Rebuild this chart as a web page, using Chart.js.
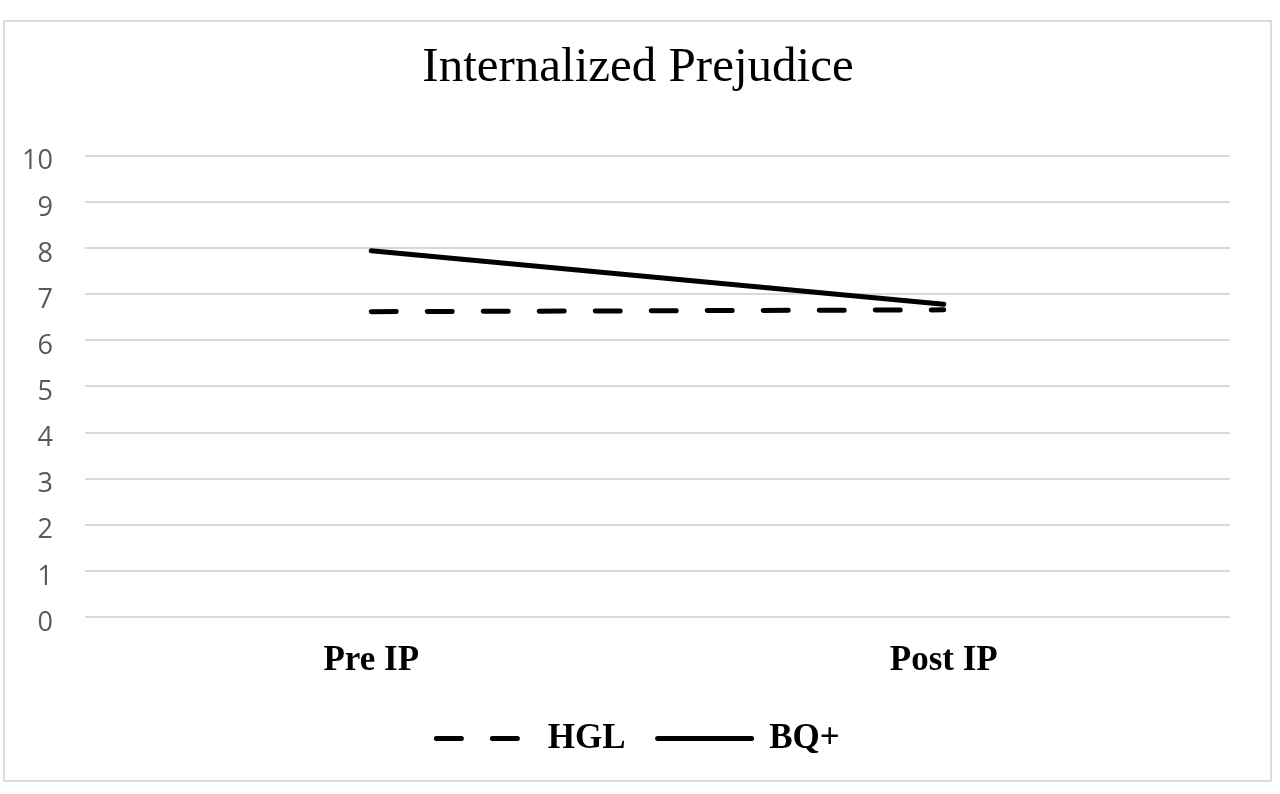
<!DOCTYPE html>
<html>
<head>
<meta charset="utf-8">
<script src="https://cdn.jsdelivr.net/npm/chart.js@4"></script>
<style>
  html, body { margin: 0; padding: 0; background: #fff; }
  #wrap { width: 1280px; height: 794px; }
</style>
</head>
<body>
<div id="wrap"><canvas id="myChart" width="1280" height="794"></canvas></div>
<script>
// categories and values
var categories = ['Pre IP', 'Post IP'];
var hglValues = [6.62, 6.66];
var bqValues = [7.94, 6.78];
var yMin = 0;
var yMax = 10;
var yStep = 1;

// light gray frame around the whole picture
var framePlugin = {
    id: 'frame',
    beforeDraw: function(chart){
        var ctx = chart.ctx;
        ctx.save();
        ctx.fillStyle = '#ffffff';
        ctx.fillRect(0, 0, chart.width, chart.height);
        ctx.strokeStyle = '#dcdcdc';
        ctx.lineWidth = 2;
        ctx.strokeRect(4, 21, 1267, 760);
        ctx.restore();
    }
};

var chartData = {
    type: 'line',
    data: {
        labels: categories,
        datasets: [{
            label: 'HGL',
            data: hglValues,
            borderColor: '#000000',
            backgroundColor: '#000000',
            borderWidth: 5,
            borderDash: [25, 31],
            borderCapStyle: 'round',
            pointRadius: 0,
            fill: false
        }, {
            label: 'BQ+',
            data: bqValues,
            borderColor: '#000000',
            backgroundColor: '#000000',
            borderWidth: 5,
            borderCapStyle: 'round',
            pointRadius: 0,
            fill: false
        }]
    },
    options: {
        responsive: false,
        animation: false,
        layout: {
            padding: { left: 0, right: 4, top: 0, bottom: 28 }
        },
        plugins: {
            title: {
                display: true,
                text: 'Internalized Prejudice',
                color: '#000000',
                font: { family: '"Liberation Serif", serif', size: 49, weight: 'normal' },
                padding: { top: 39, bottom: 58 }
            },
            legend: {
                position: 'bottom',
                labels: {
                    usePointStyle: true,
                    pointStyleWidth: 94,
                    color: '#000000',
                    font: { family: '"Liberation Serif", serif', size: 35, weight: 'bold' },
                    padding: 32,
                    generateLabels: function(chart){
                        return chart.data.datasets.map(function(ds, i){
                            return {
                                text: ds.label,
                                fillStyle: ds.borderColor,
                                strokeStyle: ds.borderColor,
                                lineWidth: ds.borderWidth,
                                lineDash: ds.borderDash || [],
                                lineCap: ds.borderCapStyle,
                                pointStyle: 'line',
                                fontColor: '#000000',
                                hidden: false,
                                datasetIndex: i
                            };
                        });
                    }
                }
            },
            tooltip: { enabled: false }
        },
        scales: {
            x: {
                offset: true,
                afterFit: function(scale){ scale.height = 72; },
                grid: { display: false },
                border: { display: false },
                ticks: {
                    color: '#000000',
                    font: { family: '"Liberation Serif", serif', size: 35, weight: 'bold' },
                    padding: 15
                }
            },
            y: {
                min: yMin,
                max: yMax,
                afterFit: function(scale){ scale.width = 85; },
                grid: { color: '#d9d9d9', lineWidth: 2, drawTicks: false },
                border: { display: false },
                ticks: {
                    stepSize: yStep,
                    color: '#595959',
                    font: { family: '"Open Sans", sans-serif', size: 27 },
                    padding: 32,
                    labelOffset: 6
                }
            },
            // empty axis on the right, only keeps the white margin
            y2: {
                position: 'right',
                min: yMin,
                max: yMax,
                afterFit: function(scale){ scale.width = 46; },
                grid: { display: false },
                border: { display: false },
                ticks: { display: false }
            }
        }
    },
    plugins: [framePlugin]
};

function drawChart(){
    var chartArea = document.getElementById('myChart').getContext('2d');
    var myChart = new Chart(chartArea, chartData);
}
window.onload = drawChart;
</script>
</body>
</html>
